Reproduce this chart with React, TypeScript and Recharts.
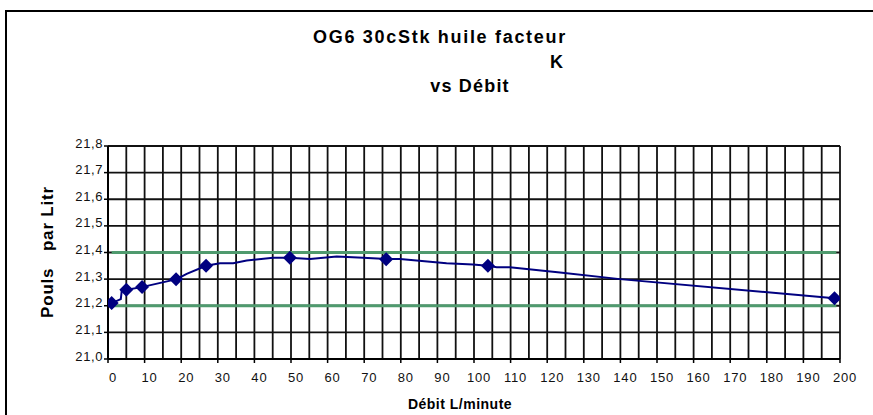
import React from "react";
import {
  ComposedChart,
  Line,
  Scatter,
  XAxis,
  YAxis,
  ReferenceLine,
} from "recharts";

// mesures (marqueurs)
const measX = [1, 5, 9.3, 18.6, 26.8, 49.7, 76, 103.8, 198.5];
const measK = [21.21, 21.26, 21.27, 21.3, 21.35, 21.38, 21.375, 21.35, 21.228];

// courbe lissée
const curveX = [
  1, 3.5, 3.8, 5.1, 9.2, 18.8, 21.5, 26.8, 30.6, 34.2, 37.9, 45.1, 49.7, 55.2,
  62.5, 69.7, 76.1, 79.8, 84.3, 88, 92.5, 99.7, 103.8, 106.2, 109.8, 123.5,
  139.9, 198.5,
];
const curveK = [
  21.21, 21.225, 21.262, 21.26, 21.27, 21.3, 21.32, 21.35, 21.36, 21.36, 21.37,
  21.38, 21.38, 21.376, 21.385, 21.38, 21.376, 21.376, 21.37, 21.365, 21.36,
  21.355, 21.35, 21.345, 21.345, 21.325, 21.3, 21.228,
];

const limits = [21.2, 21.4];

const xTicks = [0, 10, 20, 30, 40, 50, 60, 70, 80, 90, 100, 110, 120, 130, 140, 150, 160, 170, 180, 190, 200];
const yTicks = [21.0, 21.1, 21.2, 21.3, 21.4, 21.5, 21.6, 21.7, 21.8];

const meas = measX.map((x, i) => ({ x, k: measK[i] }));
const curve = curveX.map((x, i) => ({ x, k: curveK[i] }));

const gridX: number[] = [];
for (let v = 0; v <= 200; v += 5) gridX.push(v);

const NAVY = "#000080";
const font = "'Liberation Sans', Arial, sans-serif";

const Diamond = (props: any) => {
  const { cx, cy } = props;
  const r = 7;
  return (
    <polygon
      points={`${cx},${cy - r} ${cx + r},${cy} ${cx},${cy + r} ${cx - r},${cy}`}
      fill={NAVY}
    />
  );
};

const titleStyle: React.CSSProperties = {
  position: "absolute",
  fontWeight: "bold",
  fontSize: 18,
  letterSpacing: 1.2,
  whiteSpace: "pre",
};

export default function App() {
  return (
    <div
      style={{
        position: "fixed",
        left: 0,
        top: 0,
        width: 873,
        height: 415,
        overflow: "hidden",
        background: "#fff",
        fontFamily: font,
      }}
    >
      <div
        style={{
          position: "absolute",
          left: 5,
          top: 10,
          width: 900,
          height: 450,
          border: "2px solid #000",
        }}
      />
      <div style={{ ...titleStyle, letterSpacing: 1.7, left: 0, width: 880, top: 27, textAlign: "center" }}>
        OG6 30cStk huile facteur
      </div>
      <div style={{ ...titleStyle, left: 550, top: 52 }}>K</div>
      <div style={{ ...titleStyle, left: 0, width: 940, top: 76, textAlign: "center" }}>
        vs Débit
      </div>
      <div
        style={{
          ...titleStyle,
          fontSize: 17,
          letterSpacing: 0.8,
          left: 48,
          top: 252,
          transform: "translate(-50%, -50%) rotate(-90deg)",
        }}
      >
        {"Pouls   par Litr"}
      </div>
      <div style={{ ...titleStyle, fontSize: 14, letterSpacing: 0.5, left: 0, width: 920, top: 396, textAlign: "center" }}>
        Débit L/minute
      </div>
      <div style={{ position: "absolute", left: 0, top: 0 }}>
        <ComposedChart
          width={873}
          height={415}
          margin={{ top: 146, right: 33, bottom: 26, left: 48 }}
        >
          <XAxis
            type="number"
            dataKey="x"
            domain={[0, 200]}
            ticks={xTicks}
            height={30}
            axisLine={{ stroke: "#000", strokeWidth: 2 }}
            tickLine={{ stroke: "#000", strokeWidth: 1.5 }}
            tickSize={4}
            tick={{ fill: "#111", fontSize: 13, fontFamily: font, dx: 5, dy: 8, letterSpacing: 0.8 }}
            interval={0}
            allowDataOverflow
          />
          <YAxis
            type="number"
            dataKey="k"
            domain={[21, 21.8]}
            ticks={yTicks}
            width={60}
            axisLine={{ stroke: "#000", strokeWidth: 2 }}
            tickLine={{ stroke: "#000", strokeWidth: 1.5 }}
            tickSize={4}
            tickMargin={1}
            tick={{ fill: "#111", fontSize: 13, fontFamily: font, dy: -3, letterSpacing: 0.6 }}
            tickFormatter={(v: number) => v.toFixed(1).replace(".", ",")}
            interval={0}
            allowDataOverflow
          />
          {gridX.map((v) => (
            <ReferenceLine key={"gx" + v} x={v} stroke="#111" strokeWidth={1.8} />
          ))}
          {yTicks.map((v) => (
            <ReferenceLine key={"gy" + v} y={v} stroke="#111" strokeWidth={1.8} />
          ))}
          {limits.map((v) => (
            <ReferenceLine
              key={"lim" + v}
              segment={[
                { x: 1, y: v },
                { x: 199, y: v },
              ]}
              stroke="#4f9a6e"
              strokeWidth={3}
            />
          ))}
          <Line
            data={curve}
            dataKey="k"
            type="linear"
            stroke={NAVY}
            strokeWidth={2}
            dot={false}
            isAnimationActive={false}
          />
          <Scatter data={meas} dataKey="k" shape={Diamond} isAnimationActive={false} />
        </ComposedChart>
      </div>
    </div>
  );
}
